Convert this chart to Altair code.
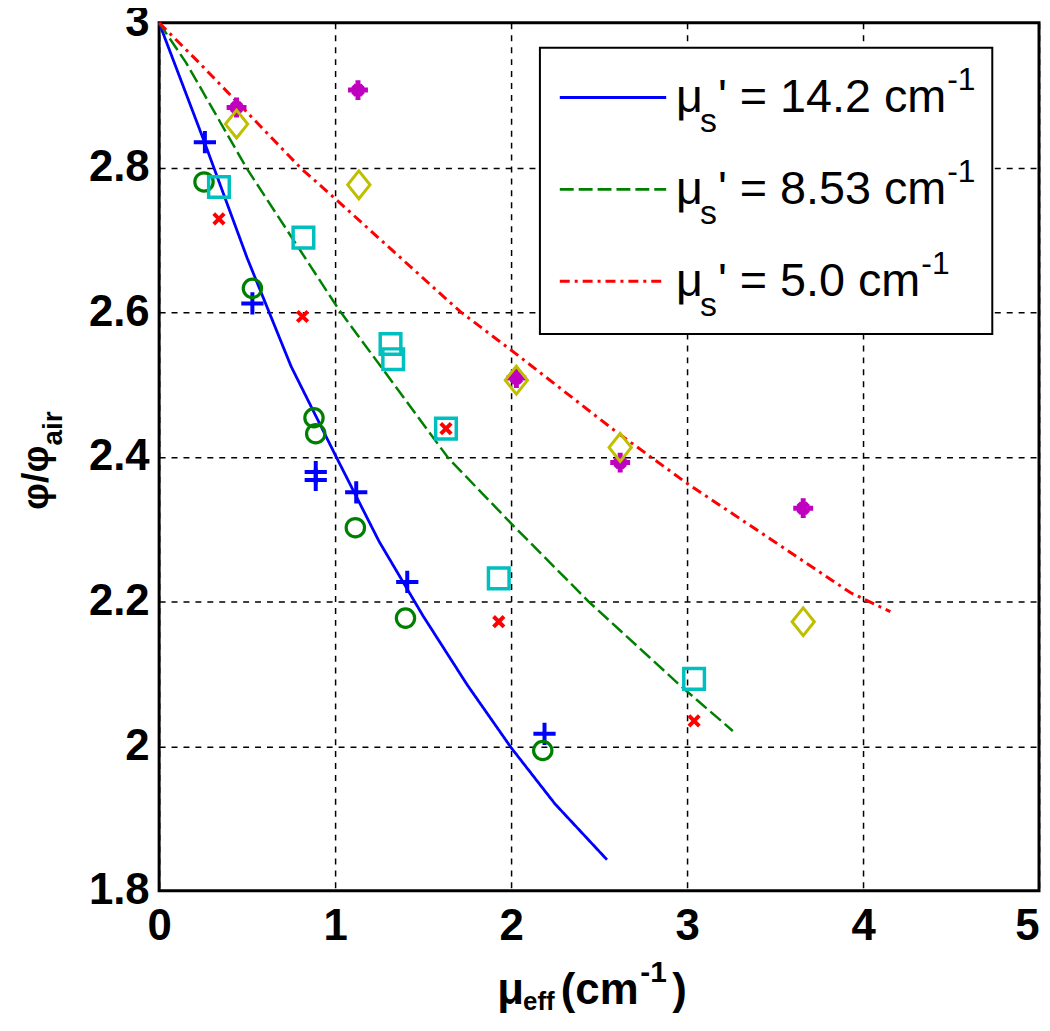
import altair as alt
import pandas as pd

# ---------------- data ----------------
blue_line_x = [0.0, 0.25, 0.5, 0.75, 1.0, 1.25, 1.5, 1.75, 2.0, 2.25, 2.545]
blue_line_y = [3.0, 2.84, 2.675, 2.525, 2.403, 2.283, 2.18, 2.085, 1.998, 1.92, 1.843]

green_line_x = [0.0, 0.153, 0.5, 1.02, 1.644, 2.0, 2.44, 2.965, 3.26]
green_line_y = [3.0, 2.945, 2.798, 2.604, 2.398, 2.308, 2.2, 2.083, 2.021]

red_line_x = [0.0, 0.227, 0.81, 1.0, 1.35, 1.71, 2.03, 2.59, 2.99, 3.93, 4.155]
red_line_y = [3.0, 2.945, 2.798, 2.757, 2.68, 2.601, 2.542, 2.436, 2.365, 2.212, 2.186]

plus_x = [0.26, 0.53, 0.89, 0.89, 1.12, 1.41, 2.19]
plus_y = [2.835, 2.612, 2.379, 2.368, 2.351, 2.227, 2.017]

circle_x = [0.255, 0.53, 0.88, 0.89, 1.115, 1.40, 2.18]
circle_y = [2.78, 2.633, 2.454, 2.432, 2.302, 2.177, 1.994]

square_x = [0.34, 0.82, 1.315, 1.33, 1.63, 1.93, 3.04]
square_y = [2.773, 2.703, 2.556, 2.535, 2.439, 2.232, 2.093]

cross_x = [0.34, 0.815, 1.63, 1.93, 3.04]
cross_y = [2.729, 2.594, 2.439, 2.172, 2.035]

star_x = [0.44, 1.13, 2.03, 2.62, 3.66]
star_y = [2.883, 2.907, 2.509, 2.392, 2.329]

diamond_x = [0.44, 1.135, 2.03, 2.62, 3.66]
diamond_y = [2.860, 2.776, 2.506, 2.413, 2.172]

legend_values = ["14.2", "8.53", "5.0"]
legend_colors = ["#0000FF", "#008000", "#FF0000"]
legend_dashes = [[1, 0], [14, 5], [10, 5, 3, 5]]

x_ticks = [0, 1, 2, 3, 4, 5]
y_ticks = [1.8, 2.0, 2.2, 2.4, 2.6, 2.8, 3.0]

# ---------------- helpers ----------------
FONT = "Liberation Sans"
AW = {" ": 278, "'": 191, "=": 584, ".": 278, "c": 500, "m": 833, "-": 333, "(": 333, ")": 333}
for d in "0123456789":
    AW[d] = 556


def tw(s, size):
    return sum(AW.get(ch, 556) for ch in s) * size / 1000.0


one = pd.DataFrame({"k": [0]})

W, H = 885, 873
xs = alt.Scale(domain=[0, 5], nice=False, zero=False)
ys = alt.Scale(domain=[1.8, 3.0], nice=False, zero=False)
xax = alt.Axis(values=x_ticks, title=None, labelExpr="'' + datum.value", labelPadding=14,
               labelFlush=False,
               labelAlign=alt.ExprRef("datum.value == 5 ? 'right' : 'center'"),
               labelFontSize=44)
yax = alt.Axis(values=y_ticks, title=None, labelExpr="'' + datum.value", labelPadding=10,
               labelFontSize=44)


def line_layer(xv, yv, color, dash, width):
    df = pd.DataFrame({"x": xv, "y": yv})
    return alt.Chart(df).mark_line(color=color, strokeDash=dash, strokeWidth=width).encode(
        x=alt.X("x:Q", scale=xs, axis=xax),
        y=alt.Y("y:Q", scale=ys, axis=yax),
    )


def point_layer(xv, yv, shape, color, size, sw, filled=False):
    df = pd.DataFrame({"x": xv, "y": yv})
    return alt.Chart(df).mark_point(shape=shape, color=color, size=size, strokeWidth=sw,
                                    filled=filled, opacity=1).encode(
        x=alt.X("x:Q", scale=xs, axis=xax),
        y=alt.Y("y:Q", scale=ys, axis=yax),
    )


def text_layer(txt, px, py, size, weight="normal", angle=0):
    kw = dict(text=txt, font=FONT, fontSize=size, fontWeight=weight, align="left",
              baseline="alphabetic", color="black")
    if angle:
        kw["angle"] = angle
    return alt.Chart(one).mark_text(**kw).encode(x=alt.value(px), y=alt.value(py))


layers = [
    line_layer(blue_line_x, blue_line_y, legend_colors[0], legend_dashes[0], 2.8),
    line_layer(green_line_x, green_line_y, legend_colors[1], legend_dashes[1], 2.5),
    line_layer(red_line_x, red_line_y, legend_colors[2], legend_dashes[2], 3),
    point_layer(plus_x, plus_y, "M-1,0L1,0M0,-1L0,1", "#0000FF", 500, 4),
    point_layer(circle_x, circle_y, "circle", "#008000", 340, 3.2),
    point_layer(square_x, square_y, "square", "#00BFBF", 430, 3.5),
    point_layer(cross_x, cross_y, "M-1,-1L1,1M-1,1L1,-1", "#FF0000", 110, 4),
    point_layer(star_x, star_y, "M-1,0L1,0M0,-1L0,1M-0.5,-0.5L0.5,0.5M-0.5,0.5L0.5,-0.5",
                "#BF00BF", 400, 5),
    point_layer(diamond_x, diamond_y, "M0,-1L0.8,0L0,1L-0.8,0Z", "#BFBF00", 784, 3),
]

# legend box
layers.append(
    alt.Chart(one).mark_rect(fill="white", stroke="black", strokeWidth=2).encode(
        x=alt.value(383), x2=alt.value(838), y=alt.value(25), y2=alt.value(313)
    )
)

for i, v in enumerate(legend_values):
    by = 90 + i * 92.5
    ly = by - 15
    layers.append(
        alt.Chart(one).mark_rule(color=legend_colors[i], strokeDash=legend_dashes[i],
                                 strokeWidth=3).encode(
            x=alt.value(403), x2=alt.value(510), y=alt.value(ly)
        )
    )
    main = "' = " + v + " cm"
    layers.append(text_layer("\u03bc", 520, by, 47))
    layers.append(text_layer("s", 544, by + 20, 34))
    layers.append(text_layer(main, 562, by, 47))
    layers.append(text_layer("-1", 562 + tw(main, 47) + 1, by - 22, 32))

# x-axis title: mu_eff (cm^-1)
layers += [
    text_layer("\u03bc", 340, 987, 44, "bold"),
    text_layer("eff", 366, 993, 26, "bold"),
    text_layer("(cm", 404, 987, 44, "bold"),
    text_layer("-1", 484, 965, 30, "bold"),
    text_layer(")", 516, 987, 44, "bold"),
]

# y-axis title: phi/phi_air (rotated)
layers += [
    text_layer("\u03c6/\u03c6", -112, 490, 38, "bold", 270),
    text_layer("air", -98, 425, 28, "bold", 270),
]

chart = alt.layer(*layers).properties(
    width=W, height=H,
    autosize=alt.AutoSizeParams(type="none"),
    padding={"left": 152, "top": 12, "right": 3, "bottom": 124},
).configure_view(
    stroke="black", strokeWidth=3
).configure_axis(
    grid=True, gridColor="black", gridDash=[6, 6], gridWidth=1.5, gridOpacity=1,
    domain=False, ticks=False,
    labelFont=FONT, labelFontWeight="bold", labelColor="black",
)

chart.save("out.html", embed_options={"renderer": "svg", "actions": False})
